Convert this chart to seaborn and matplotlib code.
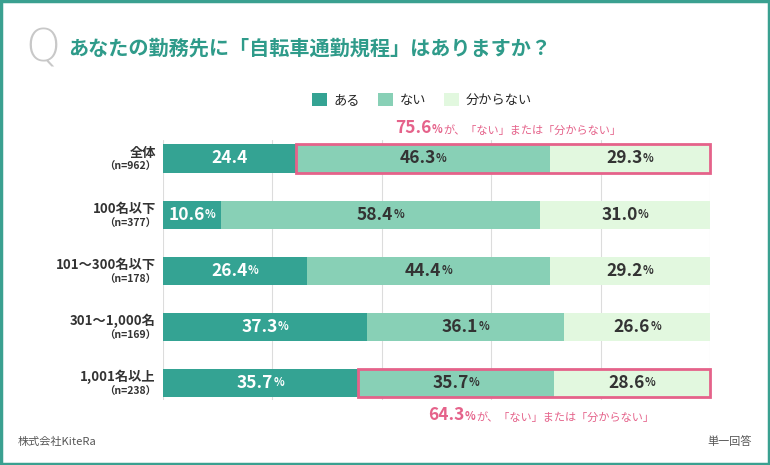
import pandas as pd
import matplotlib.pyplot as plt
import seaborn as sns
from matplotlib.patches import Rectangle, Patch

# data
categories = ['全体', '100名以下', '101〜300名以下', '301〜1,000名', '1,001名以上']
sample_sizes = ['（n=962）', '（n=377）', '（n=178）', '（n=169）', '（n=238）']
aru = [24.4, 10.6, 26.4, 37.3, 35.7]
nai = [46.3, 58.4, 44.4, 36.1, 35.7]
wakaranai = [29.3, 31.0, 29.2, 26.6, 28.6]
series_names = ['ある', 'ない', '分からない']
highlight_rows = [0, 4]
highlight_values = ['75.6', '64.3']
# first bar of the reference has no % sign
show_pct = [[False, True, True], [True, True, True], [True, True, True],
            [True, True, True], [True, True, True]]

C_ARU = '#34a393'
C_NAI = '#88d0b6'
C_WAK = '#e2f8df'
PINK = '#e5628a'
TEAL = '#2f9b8a'
DARK = '#333333'

sns.set_style('white')
plt.rcParams['font.family'] = ['Noto Sans CJK JP', 'DejaVu Sans']

df = pd.DataFrame({'cat': categories, 'aru': aru, 'nai': nai, 'wak': wakaranai})
df['c1'] = df['aru']
df['c2'] = df['aru'] + df['nai']
df['c3'] = df['c2'] + df['wak']

fig = plt.figure(figsize=(7.7, 4.65), dpi=100)
ax = fig.add_axes([163 / 770, 1 - 400 / 465, (710 - 163) / 770, 260 / 465])

for col, color in [('c3', C_WAK), ('c2', C_NAI), ('c1', C_ARU)]:
    sns.barplot(data=df, x=col, y='cat', orient='h', color=color,
                width=0.5, linewidth=0, saturation=1, ax=ax, zorder=3)

ax.set_xlim(0, 100)
ax.set_ylim(4.31, -0.33)
for gx in [0, 20, 40, 60, 80, 100]:
    ax.axvline(gx, color='#dcdcdc', lw=0.8, zorder=1)
for s in ax.spines.values():
    s.set_visible(False)
ax.set_xticks([])
ax.set_yticks([])
ax.set_xlabel('')
ax.set_ylabel('')

# category labels
for i, (cat, n) in enumerate(zip(categories, sample_sizes)):
    ax.text(-1.3, i + 0.03, cat, ha='right', va='bottom', fontsize=9.5,
            fontweight='bold', color=DARK)
    ax.text(-1.3, i + 0.07, n, ha='right', va='top', fontsize=7.5,
            fontweight='bold', color=DARK)

# value labels
def value_label(xc, y, val, color, pct):
    if not pct:
        ax.text(xc, y, val, ha='center', va='center', fontsize=12.5,
                fontweight='bold', color=color, zorder=6)
        return
    t = ax.annotate(val, xy=(xc, y), xytext=(-4, 0), textcoords='offset points',
                    ha='center', va='center', fontsize=12.5,
                    fontweight='bold', color=color, zorder=6)
    ax.annotate('%', xy=(1, 0.12), xycoords=t, xytext=(0.2, 0),
                textcoords='offset points', ha='left', va='bottom',
                fontsize=8, fontweight='bold', color=color, zorder=6)

for i in range(len(categories)):
    segs = [(0, aru[i]), (aru[i], nai[i]), (aru[i] + nai[i], wakaranai[i])]
    for j, (start, w) in enumerate(segs):
        color = 'white' if j == 0 else DARK
        value_label(start + w / 2, i, f'{w:.1f}', color, show_pct[i][j])

# pink highlight boxes
for i in highlight_rows:
    ax.add_patch(Rectangle((aru[i], i - 0.25), 100 - aru[i], 0.5, fill=False,
                           edgecolor=PINK, lw=2, zorder=7, clip_on=False))

def callout(x, y, value):
    t1 = fig.text(x, y, value, ha='left', va='bottom', fontsize=12.5,
                  fontweight='bold', color=PINK)
    a2 = plt.annotate('%', xy=(1, 0.05), xycoords=t1, xytext=(0.2, 0),
                      textcoords='offset points', ha='left', va='bottom',
                      fontsize=8, fontweight='bold', color=PINK,
                      annotation_clip=False)
    plt.annotate('が、「ない」または「分からない」', xy=(1, 0), xycoords=a2,
                 xytext=(0.5, 0), textcoords='offset points', ha='left',
                 va='bottom', fontsize=8, color=PINK, annotation_clip=False)

callout(395 / 770, 1 - 137 / 465, highlight_values[0])
callout(428 / 770, 1 - 424 / 465, highlight_values[1])

# legend
handles = [Patch(facecolor=c, edgecolor='none') for c in (C_ARU, C_NAI, C_WAK)]
fig.legend(handles, series_names, loc='center', ncol=3,
           bbox_to_anchor=(422 / 770, 1 - 100 / 465), frameon=False,
           fontsize=9.5, handlelength=1.1, handleheight=1.1,
           handletextpad=0.5, columnspacing=1.4)

# title
fig.text(25 / 770, 1 - 49 / 465, 'Q', fontsize=32, color='#c8c8c8',
         va='center', ha='left', family=['DejaVu Sans'], fontweight='light')
fig.text(68 / 770, 1 - 48 / 465, 'あなたの勤務先に「自転車通勤規程」はありますか？',
         fontsize=14.5, fontweight='bold', color=TEAL, va='center', ha='left')

# footer
fig.text(18 / 770, 1 - 442 / 465, '株式会社KiteRa', fontsize=8, color='#555555',
         va='center', ha='left')
fig.text(752 / 770, 1 - 442 / 465, '単一回答', fontsize=8, color='#555555',
         va='center', ha='right')

# frame
fig.add_artist(Rectangle((0.0015, 0.0025), 0.997, 0.995, transform=fig.transFigure,
                         fill=False, edgecolor='#3aa090', lw=2.5))

fig.savefig('out.png', dpi=100)
